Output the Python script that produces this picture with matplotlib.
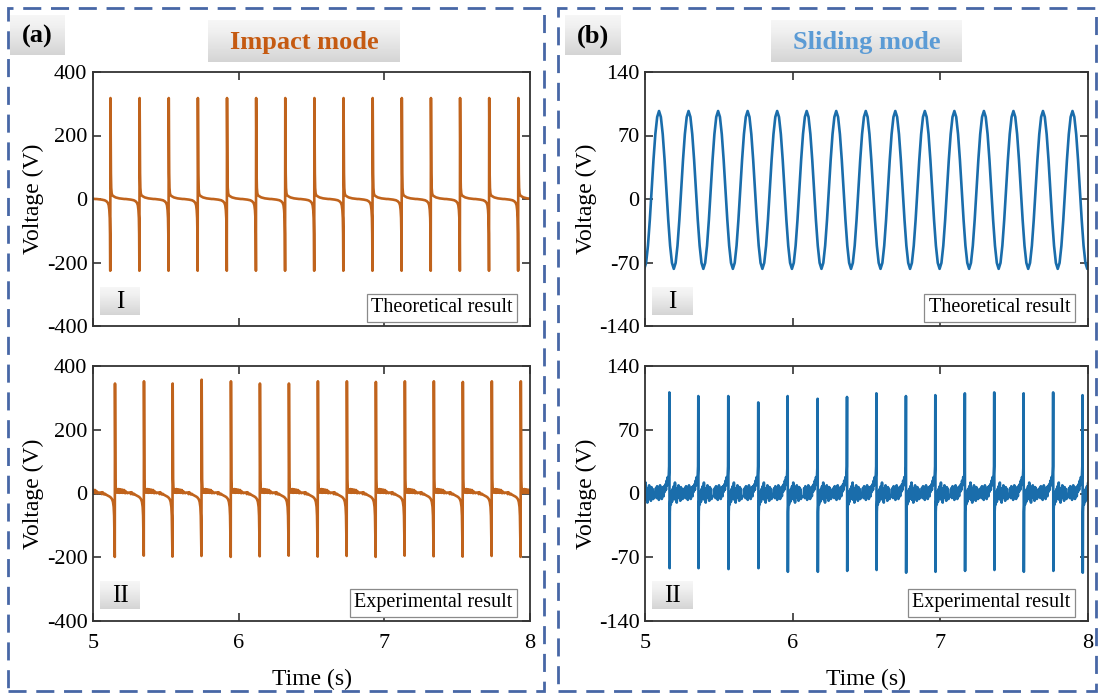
import numpy as np
import matplotlib.pyplot as plt
from matplotlib.patches import Rectangle

plt.rcParams["font.family"] = ["Liberation Serif", "DejaVu Serif"]
plt.rcParams["axes.unicode_minus"] = False

W, H = 1100, 697

# ---- data ----
# (a) impact mode, theoretical: spike instants (s) and extreme values (V)
IMPACT_THEO_TIMES = [4.92, 5.12, 5.32, 5.52, 5.72, 5.92, 6.12, 6.32, 6.52, 6.72,
                     6.92, 7.12, 7.32, 7.52, 7.72, 7.92]
IMPACT_THEO_PEAKS = [318] * 16
IMPACT_THEO_TROUGHS = [-226] * 16
# one pulse of the theoretical waveform: offsets (s) and voltage (V); None = per-spike value
IMPACT_THEO_DT = [-0.095, -0.060, -0.040, -0.028, -0.018, -0.012, -0.008, -0.005, -0.003,
                  -0.0015, 0.0, 0.0015, 0.003, 0.005, 0.008, 0.012, 0.020, 0.035, 0.060, 0.095]
IMPACT_THEO_V = [0, -2, -4, -7, -12, -20, -35, -60, -110,
                 None, None, 200, 80, 35, 18, 12, 9, 5, 2, 0]

# (a) impact mode, experimental
IMPACT_EXP_TIMES = [4.952, 5.151, 5.350, 5.547, 5.746, 5.947, 6.146, 6.345, 6.544, 6.743,
                    6.942, 7.141, 7.340, 7.539, 7.738, 7.937]
IMPACT_EXP_PEAKS = [345, 345, 352, 345, 357, 352, 345, 345, 352, 352, 350, 352, 352, 350, 352, 352]
IMPACT_EXP_TROUGHS = [-196, -199, -195, -198, -196, -199, -197, -195, -198, -196, -199, -195,
                      -197, -198, -196, -199]
IMPACT_EXP_DT = [-0.095, -0.090, -0.085, -0.080, -0.075, -0.068, -0.060, -0.052, -0.044,
                 -0.036, -0.028, -0.020, -0.014, -0.009, -0.006, -0.004, -0.0015, 0.0,
                 0.0015, 0.003, 0.005, 0.008, 0.011, 0.014, 0.017, 0.020, 0.023, 0.026,
                 0.029, 0.032, 0.035, 0.038, 0.041, 0.044, 0.047, 0.050, 0.053, 0.056,
                 0.059, 0.062, 0.065, 0.068, 0.071, 0.075, 0.080, 0.086, 0.095]
IMPACT_EXP_V = [3, -2, 4, 1, -3, -1, -4, -6, -8, -10, -13, -18, -26, -42, -70, -120, None, None,
                150, 45, 20, 12, 4, 13, 3, 12, 5, 14, 2, 11, 4, 13, 3, 10, 4, 12, 2, 9, 3,
                11, 2, 8, 1, 6, 3, 1, 3]

# (b) sliding mode, theoretical: peak instants (s) and one sampled cycle (V)
SLIDING_THEO_PEAKS = [4.895, 5.095, 5.295, 5.495, 5.695, 5.895, 6.095, 6.295, 6.495,
                      6.695, 6.895, 7.095, 7.295, 7.495, 7.695, 7.895]
SLIDING_THEO_CYCLE = [97, 90.4, 71.5, 43.3, 10, -23.3, -51.5, -70.4,
                      -77, -70.4, -51.5, -23.3, 10, 43.3, 71.5, 90.4]

# (b) sliding mode, experimental
SLIDING_EXP_TIMES = [4.966, 5.165, 5.361, 5.564, 5.767, 5.966, 6.169, 6.368, 6.567, 6.767,
                     6.966, 7.166, 7.365, 7.564, 7.764, 7.963]
SLIDING_EXP_PEAKS = [108, 111, 107, 107, 100, 107, 104, 106, 110, 107, 108, 110, 111, 110, 111, 108]
SLIDING_EXP_TROUGHS = [-84, -82, -82, -83, -82, -86, -86, -85, -84, -87, -86, -85, -84, -86,
                       -85, -87]
SLIDING_EXP_DT = [-0.095, -0.091, -0.087, -0.083, -0.079, -0.075, -0.071, -0.067, -0.063,
                  -0.059, -0.055, -0.051, -0.047, -0.043, -0.039, -0.035, -0.031, -0.027,
                  -0.023, -0.019, -0.015, -0.011, -0.007, -0.004, -0.0015, 0.0, 0.0015,
                  0.003, 0.006, 0.010, 0.014, 0.018, 0.022, 0.026, 0.030, 0.034, 0.038,
                  0.042, 0.046, 0.050, 0.054, 0.058, 0.062, 0.066, 0.070, 0.074, 0.078,
                  0.082, 0.086, 0.090, 0.095]
SLIDING_EXP_V = [-3, 6, -5, 8, -2, 5, -7, 3, 9, -4, 6, -6, 2, 7, -3, 8, 2, 10, 4, 14, 9, 18,
                 13, 20, 30, None, None, -20, -8, -12, 2, -9, 5, -6, 8, -4, 12, -7, 3, -10,
                 6, -3, 9, -5, 4, -8, 7, -2, 5, -6, -3]

ORANGE = "#c0631c"
BLUE = "#1a6dab"
FRAME = "#4767a6"


def build_pulses(times, dts, template, peaks, troughs):
    """Tile a pulse template at each spike instant, filling in peak/trough."""
    holes = [i for i, v in enumerate(template) if v is None]
    t, v = [], []
    for tk, pk, tr in zip(times, peaks, troughs):
        vals = list(template)
        # impact pulses dip first then spike up; sliding pulses spike up then dip
        vals[holes[0]], vals[holes[1]] = (tr, pk) if dts[holes[0]] < 0 else (pk, tr)
        t.extend(tk + d for d in dts)
        v.extend(vals)
    return np.array(t), np.array(v, dtype=float)


def build_cycles(peaks, cycle, period=0.2):
    n = len(cycle)
    t, v = [], []
    for tp in peaks:
        t.extend(tp + period * i / n for i in range(n))
        v.extend(cycle)
    return np.array(t), np.array(v, dtype=float)


def px_axes(x0, y0, x1, y1):
    return [x0 / W, 1 - y1 / H, (x1 - x0) / W, (y1 - y0) / H]


def gray_box(rect, text, color="black", size=15, bold=False):
    bx = fig.add_axes(px_axes(*rect))
    grad = np.linspace(0, 1, 50).reshape(-1, 1)
    bx.imshow(grad, cmap="Greys", vmin=-0.35, vmax=4.6, aspect="auto", extent=[0, 1, 0, 1])
    bx.set_axis_off()
    bx.text(0.5, 0.47, text, ha="center", va="center", color=color, fontsize=size,
            fontweight="bold" if bold else "normal", transform=bx.transAxes)
    return bx


def style_axes(ax, yticks, ylim, show_x):
    ax.set_xlim(5, 8)
    ax.set_ylim(*ylim)
    ax.set_xticks([5, 6, 7, 8])
    ax.set_yticks(yticks)
    ax.tick_params(direction="in", top=True, right=True, length=6, width=1.1,
                   labelsize=16, color="#222222", pad=4)
    ax.tick_params(axis="x", pad=9)
    for s in ax.spines.values():
        s.set_linewidth(1.3)
        s.set_color("#333333")
    ax.set_ylabel("Voltage (V)", fontsize=17)
    if show_x:
        ax.set_xlabel("Time (s)", fontsize=17, labelpad=12)
    else:
        ax.tick_params(labelbottom=False)


fig = plt.figure(figsize=(W / 100, H / 100), dpi=100)

ax_a1 = fig.add_axes(px_axes(93, 72, 530, 326))
ax_a2 = fig.add_axes(px_axes(93, 366, 530, 621))
ax_b1 = fig.add_axes(px_axes(645, 72, 1088, 326))
ax_b2 = fig.add_axes(px_axes(645, 366, 1088, 621))

t, v = build_pulses(IMPACT_THEO_TIMES, IMPACT_THEO_DT, IMPACT_THEO_V,
                    IMPACT_THEO_PEAKS, IMPACT_THEO_TROUGHS)
ax_a1.plot(t, v, color=ORANGE, lw=1.9)
t, v = build_pulses(IMPACT_EXP_TIMES, IMPACT_EXP_DT, IMPACT_EXP_V,
                    IMPACT_EXP_PEAKS, IMPACT_EXP_TROUGHS)
ax_a2.plot(t, v, color=ORANGE, lw=1.9)
t, v = build_cycles(SLIDING_THEO_PEAKS, SLIDING_THEO_CYCLE)
ax_b1.plot(t, v, color=BLUE, lw=1.9)
t, v = build_pulses(SLIDING_EXP_TIMES, SLIDING_EXP_DT, SLIDING_EXP_V,
                    SLIDING_EXP_PEAKS, SLIDING_EXP_TROUGHS)
ax_b2.plot(t, v, color=BLUE, lw=1.9)

style_axes(ax_a1, [-400, -200, 0, 200, 400], (-400, 400), False)
style_axes(ax_a2, [-400, -200, 0, 200, 400], (-400, 400), True)
style_axes(ax_b1, [-140, -70, 0, 70, 140], (-140, 140), False)
style_axes(ax_b2, [-140, -70, 0, 70, 140], (-140, 140), True)
for ax in (ax_a1, ax_a2):
    ax.yaxis.set_label_coords(-0.112, 0.5)
for ax in (ax_b1, ax_b2):
    ax.yaxis.set_label_coords(-0.108, 0.5)

results = [(ax_a1, "Theoretical result"), (ax_a2, "Experimental result"),
           (ax_b1, "Theoretical result"), (ax_b2, "Experimental result")]
for ax, label in results:
    ax.text(0.96, 0.035, label, transform=ax.transAxes, ha="right", va="bottom",
            fontsize=14.5, bbox=dict(boxstyle="square,pad=0.22", fc="white", ec="#8a8a8a", lw=0.9))

# roman numeral tags
gray_box((100, 287, 140, 315), "I", size=18)
gray_box((100, 581, 140, 609), "II", size=18)
gray_box((652, 287, 692, 315), "I", size=18)
gray_box((652, 581, 692, 609), "II", size=18)

# panel tags and titles
gray_box((10, 15, 65, 55), "(a)", size=19, bold=True)
gray_box((208, 20, 400, 62), "Impact mode", color="#c55a11", size=19, bold=True)
gray_box((565, 15, 620, 55), "(b)", size=19, bold=True)
gray_box((771, 20, 962, 62), "Sliding mode", color="#5b9bd5", size=19, bold=True)

# dashed frames round each panel
for x0, x1 in ((8, 544), (558, 1096)):
    fig.add_artist(Rectangle((x0 / W, 1 - 691 / H), (x1 - x0) / W, (691 - 8) / H,
                             transform=fig.transFigure, fill=False, lw=2.0,
                             ls=(0, (6.5, 3.5)), ec=FRAME))

fig.savefig("out.png", dpi=100)
